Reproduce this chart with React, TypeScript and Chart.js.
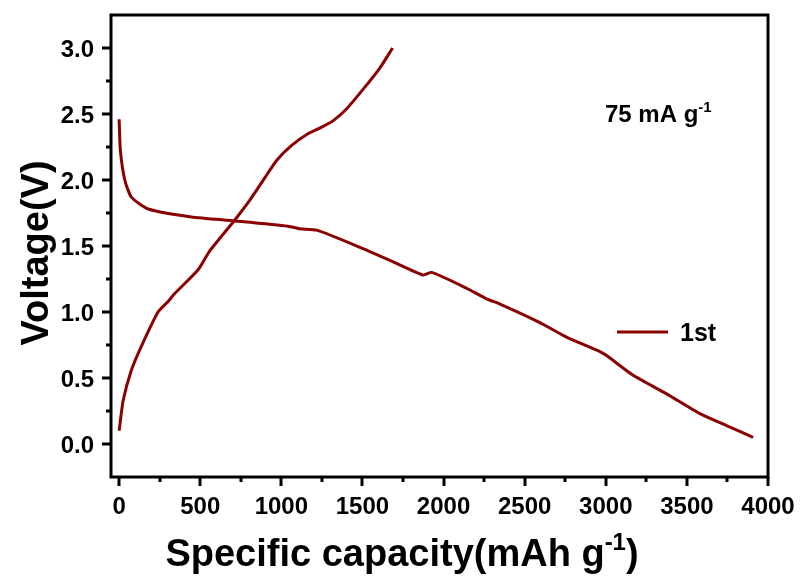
import React, { useEffect, useRef } from "react";
import { Chart, registerables } from "chart.js";

Chart.register(...registerables);

// ---- data ----
const chargeCapacity = [0, 25, 76, 137, 240, 302, 343, 487, 557, 702, 807, 900, 972, 1062, 1164, 1249, 1320, 1403, 1506, 1608, 1686];
const chargeVoltage = [0.1, 0.33, 0.56, 0.74, 1.0, 1.08, 1.14, 1.32, 1.46, 1.68, 1.85, 2.02, 2.15, 2.26, 2.35, 2.4, 2.45, 2.54, 2.69, 2.85, 3.0];

const dischargeCapacity = [0, 8, 35, 76, 179, 445, 713, 1041, 1115, 1218, 1485, 1690, 1875, 1927, 2142, 2265, 2348, 2594, 2758, 2964, 3005, 3169, 3375, 3580, 3744, 3908];
const dischargeVoltage = [2.46, 2.22, 2.0, 1.87, 1.78, 1.72, 1.69, 1.65, 1.63, 1.62, 1.49, 1.38, 1.28, 1.3, 1.18, 1.1, 1.06, 0.92, 0.81, 0.7, 0.67, 0.52, 0.38, 0.23, 0.14, 0.05];

const xMajorTicks = [0, 500, 1000, 1500, 2000, 2500, 3000, 3500, 4000];
const yMajorTicks = [0, 0.5, 1.0, 1.5, 2.0, 2.5, 3.0];
const xMinorTicks = [250, 750, 1250, 1750, 2250, 2750, 3250, 3750];
const yMinorTicks = [0.25, 0.75, 1.25, 1.75, 2.25, 2.75];

const seriesLabel = "1st";
const rateLabel = "75 mA g";
const xTitleMain = "Specific capacity(mAh g";
const yTitle = "Voltage(V)";

const LINE_COLOR = "#8B0000";
const FONT = "'Liberation Sans', Arial, sans-serif";

function drawRich(
  ctx: CanvasRenderingContext2D,
  parts: { t: string; sup?: boolean }[],
  x: number,
  y: number,
  size: number,
  align: "left" | "center"
) {
  const supSize = Math.round(size * 0.62);
  let total = 0;
  for (const p of parts) {
    ctx.font = `bold ${p.sup ? supSize : size}px ${FONT}`;
    total += ctx.measureText(p.t).width;
  }
  let cx = align === "center" ? x - total / 2 : x;
  ctx.textAlign = "left";
  ctx.textBaseline = "alphabetic";
  for (const p of parts) {
    ctx.font = `bold ${p.sup ? supSize : size}px ${FONT}`;
    ctx.fillText(p.t, cx, p.sup ? y - size * 0.42 : y);
    cx += ctx.measureText(p.t).width;
  }
}

const decorPlugin = {
  id: "decor",
  afterDraw(chart: any) {
    const ctx: CanvasRenderingContext2D = chart.ctx;
    const { left, right, top, bottom } = chart.chartArea;
    const xs = chart.scales.x;
    const ys = chart.scales.y;
    ctx.save();
    ctx.strokeStyle = "#000";
    ctx.fillStyle = "#000";
    ctx.lineWidth = 3;
    ctx.lineCap = "butt";
    // frame
    ctx.strokeRect(left, top, right - left, bottom - top);
    // x ticks + labels
    const drawX = (v: number, len: number) => {
      const px = Math.round(xs.getPixelForValue(v));
      ctx.beginPath();
      ctx.moveTo(px, bottom);
      ctx.lineTo(px, bottom + len);
      ctx.stroke();
    };
    xMajorTicks.forEach((v) => drawX(v, 9));
    xMinorTicks.forEach((v) => drawX(v, 5));
    const drawY = (v: number, len: number) => {
      const py = Math.round(ys.getPixelForValue(v));
      ctx.beginPath();
      ctx.moveTo(left, py);
      ctx.lineTo(left - len, py);
      ctx.stroke();
    };
    yMajorTicks.forEach((v) => drawY(v, 9));
    yMinorTicks.forEach((v) => drawY(v, 5));

    ctx.font = `bold 24px ${FONT}`;
    ctx.textBaseline = "alphabetic";
    ctx.textAlign = "center";
    xMajorTicks.forEach((v) => {
      ctx.fillText(String(v), xs.getPixelForValue(v), bottom + 37);
    });
    ctx.textAlign = "right";
    yMajorTicks.forEach((v) => {
      ctx.fillText(v.toFixed(1), left - 17, ys.getPixelForValue(v) + 8.5);
    });

    // x title
    drawRich(ctx, [{ t: xTitleMain }, { t: "-1", sup: true }, { t: ")" }], 402, 566, 38, "center");
    // y title
    ctx.save();
    ctx.translate(48, 253);
    ctx.rotate(-Math.PI / 2);
    ctx.font = `bold 38px ${FONT}`;
    ctx.textAlign = "center";
    ctx.textBaseline = "alphabetic";
    ctx.fillText(yTitle, 0, 0);
    ctx.restore();

    // rate annotation
    drawRich(ctx, [{ t: rateLabel }, { t: "-1", sup: true }], 605, 122, 24, "left");

    // legend
    ctx.strokeStyle = LINE_COLOR;
    ctx.lineWidth = 3;
    ctx.beginPath();
    ctx.moveTo(617, 332);
    ctx.lineTo(668, 332);
    ctx.stroke();
    ctx.fillStyle = "#000";
    ctx.font = `bold 25px ${FONT}`;
    ctx.textAlign = "left";
    ctx.textBaseline = "alphabetic";
    ctx.fillText(seriesLabel, 680, 341);
    ctx.restore();
  },
};

export default function App() {
  const ref = useRef<HTMLCanvasElement | null>(null);
  useEffect(() => {
    if (!ref.current) return;
    const chart = new Chart(ref.current, {
      type: "line",
      data: {
        datasets: [
          {
            label: "charge",
            data: chargeCapacity.map((x, i) => ({ x, y: chargeVoltage[i] })),
            borderColor: LINE_COLOR,
            borderWidth: 3,
            pointRadius: 0,
            tension: 0.2,
            fill: false,
          },
          {
            label: seriesLabel,
            data: dischargeCapacity.map((x, i) => ({ x, y: dischargeVoltage[i] })),
            borderColor: LINE_COLOR,
            borderWidth: 3,
            pointRadius: 0,
            tension: 0.2,
            fill: false,
          },
        ],
      },
      options: {
        responsive: false,
        maintainAspectRatio: false,
        animation: false,
        layout: { padding: { top: 15, right: 36, left: 0, bottom: 0 } },
        plugins: { legend: { display: false }, tooltip: { enabled: false } },
        scales: {
          x: {
            type: "linear",
            min: -50,
            max: 4000,
            afterFit: (s: any) => {
              s.height = 101;
            },
            grid: { display: false, drawTicks: false },
            border: { display: false },
            ticks: { display: false },
          },
          y: {
            type: "linear",
            min: -0.25,
            max: 3.25,
            afterFit: (s: any) => {
              s.width = 111;
            },
            grid: { display: false, drawTicks: false },
            border: { display: false },
            ticks: { display: false },
          },
        },
      },
      plugins: [decorPlugin],
    });
    return () => chart.destroy();
  }, []);
  return (
    <div style={{ position: "absolute", left: 0, top: 0, width: 804, height: 578, background: "#fff" }}>
      <canvas ref={ref} width={804} height={578} style={{ display: "block" }} />
    </div>
  );
}
